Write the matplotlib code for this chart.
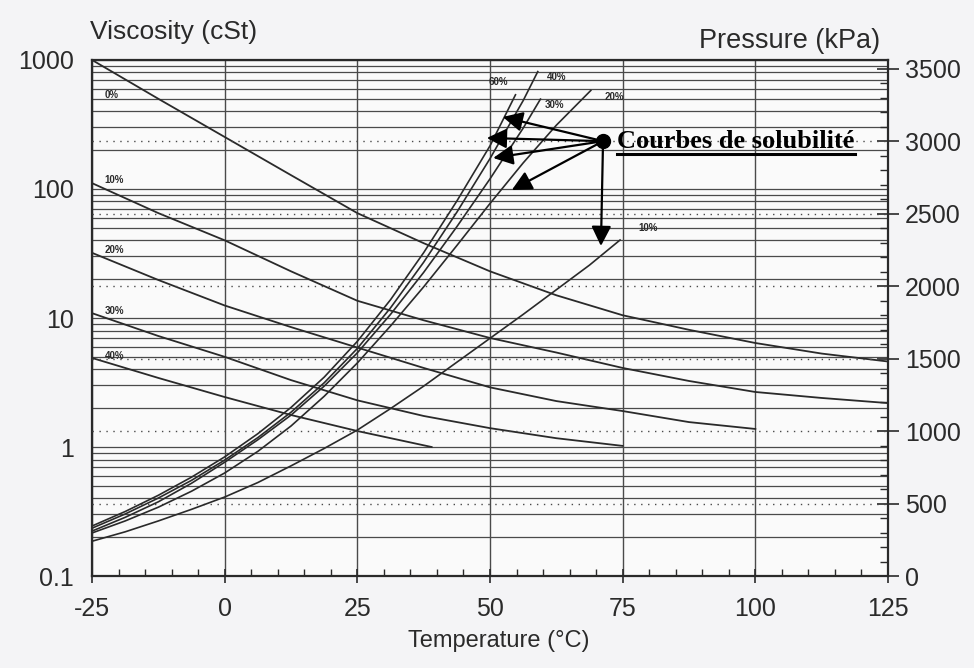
import matplotlib
matplotlib.use("Agg")
import matplotlib.pyplot as plt
from matplotlib.lines import Line2D
from matplotlib.ticker import FixedLocator, MultipleLocator, NullFormatter

plt.rcParams['font.family'] = ['Liberation Sans', 'DejaVu Sans']
plt.rcParams['axes.unicode_minus'] = False

# viscosity curves (cSt), one per refrigerant share
visc_temp = [-25, -12.5, 0, 12.5, 25, 37.5, 50, 62.5, 75, 87.5, 100, 112.5, 125]
visc_0 = [1000, 500, 253, 128, 65, 38, 23, 15, 10.5, 8.1, 6.4, 5.3, 4.6]
visc_10 = [111, 65, 40, 23, 13.6, 9.6, 7.0, 5.4, 4.1, 3.25, 2.67, 2.4, 2.19]
visc_20 = [32, 19.7, 12.5, 8.5, 5.9, 4.1, 2.9, 2.27, 1.9, 1.56, 1.38]
visc_30 = [10.9, 7.25, 5.0, 3.3, 2.3, 1.74, 1.4, 1.17, 1.02]
visc_40_temp = [-25, -12.5, 0, 12.5, 25, 39]
visc_40 = [4.9, 3.43, 2.44, 1.77, 1.33, 1.0]
visc_labels = ['0%', '10%', '20%', '30%', '40%']
visc_label_y = [535, 117, 33.6, 11.3, 5.1]

# solubility curves (kPa)
pres_temp = [-25, -18.75, -12.5, -6.25, 0, 6.25, 12.5, 18.75, 25, 31.25, 37.5,
             43.75, 50, 56.25, 62.5, 68.75]
pres_60_temp = pres_temp[:13] + [54.8]
pres_60 = [345, 445, 557, 682, 822, 982, 1163, 1372, 1619, 1906, 2231, 2587, 2968, 3320]
pres_40_temp = pres_temp[:14] + [59]
pres_40 = [330, 428, 538, 660, 800, 955, 1130, 1333, 1570, 1850, 2165, 2510, 2880, 3280, 3480]
pres_30_temp = pres_temp[:14] + [59.5]
pres_30 = [310, 405, 512, 640, 785, 940, 1110, 1310, 1540, 1805, 2095, 2410, 2740, 3090, 3290]
pres_20_temp = pres_temp[:15] + [69]
pres_20 = [297, 380, 475, 585, 711, 860, 1035, 1240, 1470, 1725, 1995, 2280, 2570, 2850, 3110, 3350]
pres_10_temp = pres_temp + [74.5]
pres_10 = [240, 305, 380, 460, 545, 645, 760, 880, 1007, 1155, 1310, 1475, 1640, 1805, 1975, 2145, 2318]
pres_labels = ['60%', '40%', '30%', '20%', '10%']
pres_label_pos = [(51.5, 3409), (62.6, 3443), (62.2, 3250), (73.5, 3305), (79.8, 2401)]

x_ticks = [-25, 0, 25, 50, 75, 100, 125]
visc_ticks = [0.1, 1, 10, 100, 1000]
visc_ticklabels = ['0.1', '1', '10', '100', '1000']
pres_ticks = [0, 500, 1000, 1500, 2000, 2500, 3000, 3500]

# where the arrows of the note point (temperature, kPa)
note_origin = (71.3, 3000)
note_targets = [(52.4, 3167), (49.4, 3022), (50.6, 2884), (54.1, 2663), (70.9, 2277)]

ink = '#2a2a2a'
grid_ink = '#4a4a4a'

fig = plt.figure(figsize=(9.74, 6.68), dpi=100, facecolor='#f4f4f6')
ax = fig.add_axes([0.0945, 0.1377, 0.8172, 0.7725])
ax.set_facecolor('#fafafa')
ax.set_xlim(-25, 125)
ax.set_yscale('log')
ax.set_ylim(0.1, 1000)

# grid: log minor lines solid, verticals every 25
ax.yaxis.set_major_locator(FixedLocator(visc_ticks))
ax.yaxis.set_minor_locator(FixedLocator(
    [m * d for d in (0.1, 1, 10, 100) for m in range(2, 10)]))
ax.yaxis.set_minor_formatter(NullFormatter())
ax.set_yticklabels(visc_ticklabels)
ax.grid(axis='y', which='both', color=grid_ink, lw=0.9)
ax.set_xticks(x_ticks)
ax.xaxis.set_minor_locator(MultipleLocator(5))
ax.grid(axis='x', which='major', color=grid_ink, lw=1.0)

ax.tick_params(axis='x', which='major', direction='inout', length=10, width=1.2,
               labelsize=18, colors=ink, pad=10)
ax.tick_params(axis='x', which='minor', direction='in', length=5, width=1.0, colors=ink)
ax.tick_params(axis='y', which='major', direction='in', length=0, labelsize=18,
               colors=ink, pad=13)
ax.tick_params(axis='y', which='minor', length=0)
for s in ax.spines.values():
    s.set_color(ink)
    s.set_linewidth(1.6)

visc_series = [(visc_temp, visc_0), (visc_temp, visc_10), (visc_temp[:11], visc_20),
               (visc_temp[:9], visc_30), (visc_40_temp, visc_40)]
for (t, v), lab, ly in zip(visc_series, visc_labels, visc_label_y):
    ax.plot(t, v, color=ink, lw=1.3)
    ax.text(-22.6, ly, lab, fontsize=7, fontweight='bold', color=ink,
            ha='left', va='center')

ax2 = ax.twinx()
ax2.set_ylim(0, 3560)
ax2.set_yticks(pres_ticks)
ax2.yaxis.set_minor_locator(MultipleLocator(100))
ax2.tick_params(axis='y', which='major', direction='inout', length=16, width=1.2,
                labelsize=18, colors=ink, pad=4)
ax2.tick_params(axis='y', which='minor', direction='in', length=6, width=1.0, colors=ink)
for p in pres_ticks[1:-1]:
    ax2.axhline(p, color=grid_ink, lw=1.0, ls=(0, (1, 4)))
for s in ax2.spines.values():
    s.set_visible(False)

pres_series = [(pres_60_temp, pres_60), (pres_40_temp, pres_40), (pres_30_temp, pres_30),
               (pres_20_temp, pres_20), (pres_10_temp, pres_10)]
for (t, p), lab, pos in zip(pres_series, pres_labels, pres_label_pos):
    ax2.plot(t, p, color=ink, lw=1.2)
    ax2.text(pos[0], pos[1], lab, fontsize=7, fontweight='bold', color=ink,
             ha='center', va='center')

# note with arrows
for tgt in note_targets:
    ax2.annotate('', xy=tgt, xytext=note_origin,
                 arrowprops=dict(arrowstyle='-|>', color='black', lw=1.6,
                                 mutation_scale=30, shrinkA=0, shrinkB=0))
ax2.plot(*note_origin, 'o', color='black', ms=10, zorder=5)
note = ax2.text(74.0, 3000, 'Courbes de solubilité', family='Liberation Serif',
                fontsize=19, fontweight='bold', color='black', ha='left', va='center')

fig.text(0.0924, 0.952, 'Viscosity (cSt)', fontsize=19, color=ink, ha='left', va='center')
fig.text(0.9035, 0.938, 'Pressure (kPa)', fontsize=19.5, color=ink, ha='right', va='center')
fig.text(0.512, 0.040, 'Temperature (°C)', fontsize=17, color=ink, ha='center', va='center')

# underline the note
fig.canvas.draw()
bb = note.get_window_extent()
W, H = fig.bbox.width, fig.bbox.height
fig.add_artist(Line2D([bb.x0 / W, bb.x1 / W], [(bb.y0 - 1) / H, (bb.y0 - 1) / H],
                      color='black', lw=2.2))

fig.savefig('out.png', dpi=100, facecolor=fig.get_facecolor())
